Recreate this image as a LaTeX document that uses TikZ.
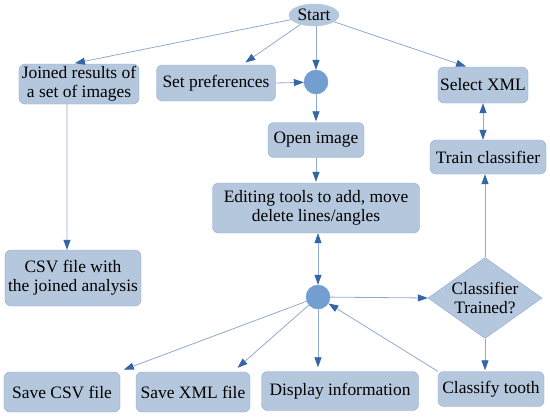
\documentclass[tikz,border=0pt]{standalone}
\usepackage{fontspec}
\setmainfont{Liberation Serif}
\usetikzlibrary{arrows.meta,shapes.geometric}
\definecolor{boxfill}{HTML}{B4C7DC}
\definecolor{boxline}{HTML}{8FAAD2}
\definecolor{dotfill}{HTML}{729FCF}
\definecolor{tipcol}{HTML}{3465A4}
\newcommand{\cBox}{boxfill}
\newcommand{\cLine}{boxline}
\newcommand{\cDot}{dotfill}
\newcommand{\cTip}{tipcol}
\newcommand{\txt}{\fontsize{17.5}{19.5}\selectfont}
\tikzset{
    box/.style={draw=\cLine, fill=\cBox, rounded corners=6bp, align=center, inner sep=1bp, font=\txt},
    dot/.style={circle, draw=\cDot, fill=\cDot, minimum size=24bp, inner sep=0pt},
    link/.style={draw=\cLine, line width=0.8bp, -{Triangle[length=10bp,width=7bp,color=\cTip]}},
    twolink/.style={draw=\cLine, line width=0.8bp, {Triangle[length=10bp,width=7bp,color=\cTip]}-{Triangle[length=10bp,width=7bp,color=\cTip]}}
}

\begin{document}
\begin{tikzpicture}[x=1bp, y=-1bp]
    \useasboundingbox (0,0) rectangle (550,416);
    % --- --- --- Top row
    \node[ellipse, fill=\cBox, draw=\cBox, minimum width=50bp, minimum height=22bp, inner sep=0pt, font=\txt] (start) at (314,15) {Start};
    \node[box, minimum width=120bp, minimum height=40bp] (joined) at (79,84) {Joined results of\\a set of images};
    \node[box, minimum width=119bp, minimum height=36bp] (pref) at (216,83) {Set preferences};
    \node[dot] (c1) at (316,82) {};
    \node[box, minimum width=90bp, minimum height=36bp] (sel) at (483,85) {Select XML};
    % --- --- --- Middle
    \node[box, minimum width=96bp, minimum height=35bp] (open) at (316,140) {Open image};
    \node[box, minimum width=116bp, minimum height=34bp] (train) at (488,157) {Train classifier};
    \node[box, minimum width=207bp, minimum height=50bp] (edit) at (316,208) {Editing tools to add, move\\delete lines/angles};
    \node[box, minimum width=136bp, minimum height=56bp] (csvj) at (73,278) {CSV file with\\the joined analysis};
    \node[dot] (c2) at (318,297) {};
    \node[diamond, fill=\cBox, draw=\cLine, minimum width=114bp, minimum height=81bp, inner sep=0pt,
          label={[align=center, font=\txt]center:{Classifier\\Trained?}}] (dia) at (485,298) {};
    % --- --- --- Bottom row
    \node[box, minimum width=116bp, minimum height=40bp] (savecsv) at (62,392) {Save CSV file};
    \node[box, minimum width=114bp, minimum height=40bp] (savexml) at (193,392) {Save XML file};
    \node[box, minimum width=157bp, minimum height=39bp] (disp) at (340,391) {Display information};
    \node[box, minimum width=106bp, minimum height=35bp] (cls) at (491,389) {Classify tooth};
    % === === === Connectors
    \draw[link, shorten >=3bp] (start) -- ([xshift=-7bp]joined.north);
    \draw[link, shorten >=4bp] (start) -- ([xshift=26bp]pref.north);
    \draw[link, shorten >=1bp] (start) -- ([xshift=-16bp]sel.north);
    \draw[link] (start.south -| c1) -- (c1);
    \draw[link] (pref.east) -- (c1);
    \draw[link, shorten >=1bp] (c1) -- (open.north);
    \draw[link, shorten >=1bp] (open.south) -- (edit.north);
    \draw[link] ([xshift=-12bp]joined.south) -- ([xshift=-6bp]csvj.north);
    \draw[twolink] (edit.south -| c2) -- (c2);
    \draw[twolink] (sel.south) -- (sel.south |- train.north);
    \draw[link] (dia.north) -- (dia.north |- train.south);
    \draw[link] (c2) -- (dia.west);
    \draw[link, shorten >=1bp] (dia.south) -- (dia.south |- cls.north);
    \draw[link] (cls.north west) -- (c2);
    \draw[link, shorten >=6bp] (c2) -- ([xshift=-2bp]savecsv.north east);
    \draw[link, shorten >=6bp] (c2) -- ([xshift=40bp]savexml.north);
    \draw[link, shorten >=4bp] (c2) -- (c2 |- disp.north);
\end{tikzpicture}
\end{document}
